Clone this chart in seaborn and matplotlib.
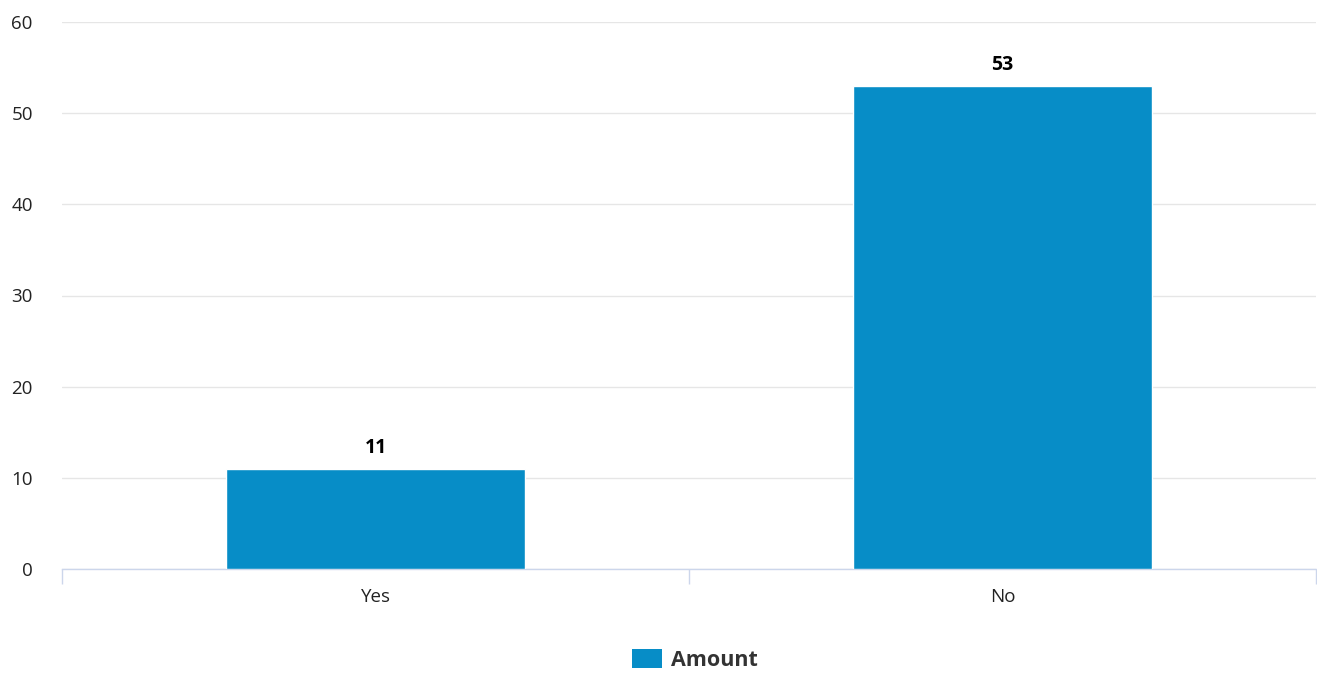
import matplotlib
matplotlib.use("Agg")
import matplotlib.pyplot as plt
import seaborn as sns
import pandas as pd
from matplotlib.patches import Patch

categories = ["Yes", "No"]
amounts = [11, 53]
series_name = "Amount"
y_ticks = [0, 10, 20, 30, 40, 50, 60]

sns.set_theme(style="white")
plt.rcParams['font.family'] = ['Open Sans', 'DejaVu Sans']

df = pd.DataFrame({"category": categories, "value": amounts})

fig = plt.figure(figsize=(13.17, 6.73), dpi=100)
ax = fig.add_axes([62/1317, 104/673, (1316-62)/1317, (569-22)/673])

bar_color = "#078DC7"
sns.barplot(data=df, x="category", y="value", color=bar_color, width=0.478,
            saturation=1, ax=ax, zorder=3)

ax.set_ylim(0, 60)
ax.set_xlim(-0.5, 1.5)
ax.set_yticks(y_ticks)
ax.set_yticklabels([str(t) for t in y_ticks], fontsize=13.5, color="#222222")
ax.yaxis.grid(True, color="#e6e6e6", linewidth=1, zorder=0)
ax.set_axisbelow(True)
ax.tick_params(axis='y', length=0, pad=21)

ax.tick_params(axis='x', which='major', length=0, pad=14, labelsize=13.5, labelcolor="#222222")
ax.set_xticks([-0.5, 0.5, 1.5], minor=True)
ax.tick_params(axis='x', which='minor', bottom=True, length=11, width=1, color="#ccd6eb", direction='out')
ax.set_xlabel("")
ax.set_ylabel("")

for s in ["top", "right", "left"]:
    ax.spines[s].set_visible(False)
ax.spines["bottom"].set_color("#ccd6eb")
ax.spines["bottom"].set_linewidth(1)

for i, v in enumerate(amounts):
    ax.annotate(str(v), (i, v), xytext=(0, 8), textcoords="offset points",
                ha="center", va="bottom", fontsize=14, fontweight="bold", color="#000000")

handles = [Patch(facecolor=bar_color, edgecolor="none", label=series_name)]
leg = fig.legend(handles=handles, loc="center", bbox_to_anchor=(695/1317, 1 - 660/673),
                 frameon=False, prop={'size': 15.5, 'weight': 'bold'},
                 handlelength=1.4, handleheight=1.0, handletextpad=0.4)
for t in leg.get_texts():
    t.set_color("#333333")

fig.savefig("out.png", dpi=100)
